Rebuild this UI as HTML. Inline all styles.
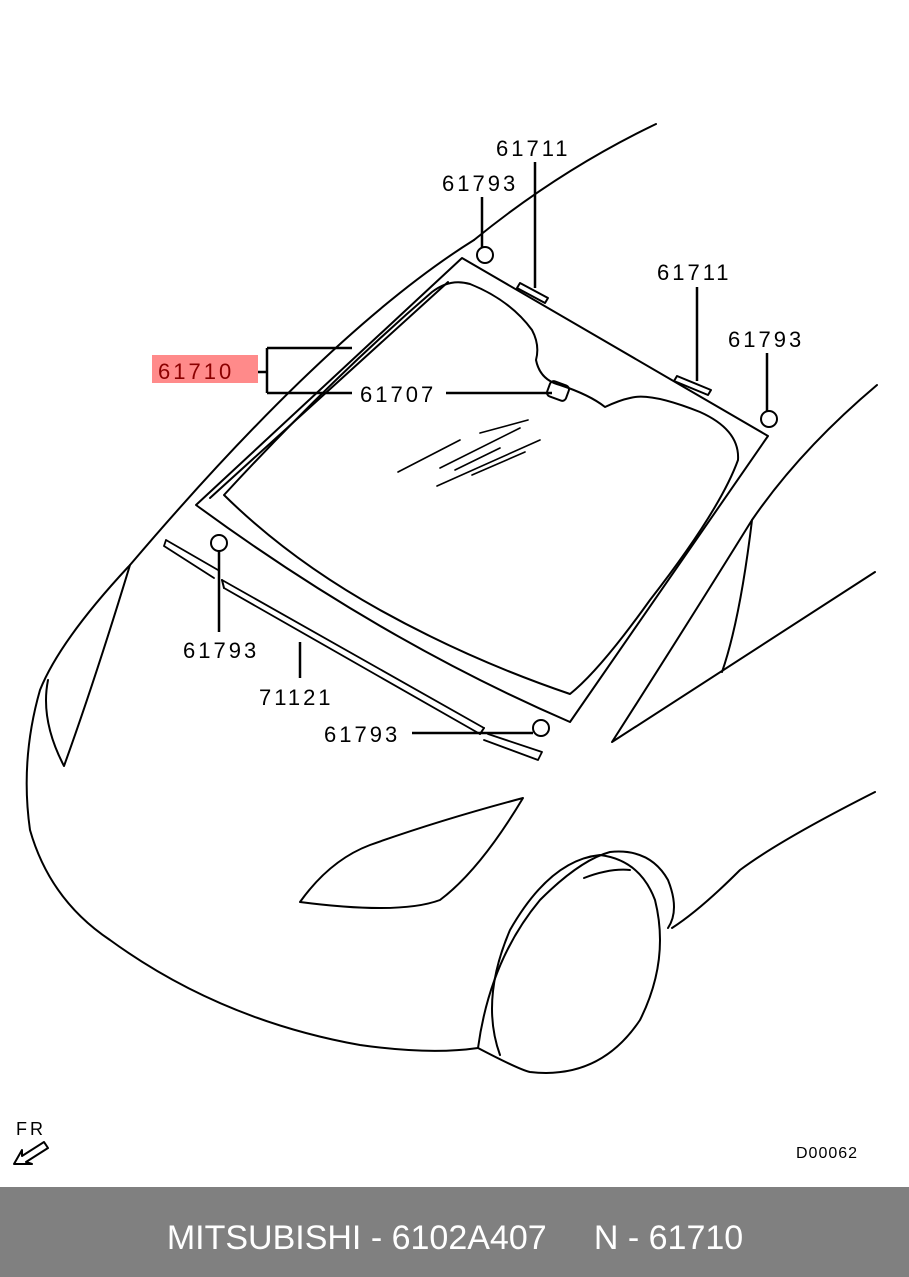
<!DOCTYPE html>
<html><head><style>
body{margin:0;background:#fff}
svg{display:block}
text{font-family:"Liberation Sans",sans-serif;font-size:22px;fill:#000;letter-spacing:3px}
</style></head><body>
<svg width="909" height="1277" viewBox="0 0 909 1277" xmlns="http://www.w3.org/2000/svg">
<rect width="909" height="1277" fill="#fff"/>
<g fill="none" stroke="#000" stroke-width="2" stroke-linejoin="round" stroke-linecap="round">
<path d="M656 124 Q560 170 474 240"/>
<path d="M474 240 Q330 330 130 565 Q60 640 40 690 Q20 760 30 830 Q50 900 110 940 Q220 1020 360 1045 Q430 1055 478 1048"/>
<path d="M130 565 Q95 680 64 766 Q40 720 48 680"/>
<path d="M462 258 L768 436 L570 722 Q380 640 196 505 Z"/>
<path d="M210 498 L448 282"/>
<path d="M224 495 Q330 380 432 292 Q450 278 470 284 Q510 300 532 330 Q540 345 536 360 Q540 380 560 385 Q590 395 605 407 Q620 400 630 398 Q650 392 700 412 Q740 430 738 460 Q720 510 650 600 Q600 670 570 694 Q470 660 380 610 Q290 560 224 495 Z"/>
<path d="M398 472 L460 440 M440 468 L520 428 M455 470 L500 448 M437 486 L540 440 M472 475 L525 452 M480 433 L528 420" stroke-width="1.6"/>
<path d="M877 385 Q800 450 752 520 Q690 620 612 742 L875 572"/>
<path d="M752 520 Q740 620 722 672"/>
<path d="M875 792 Q780 840 740 870 Q700 910 672 928"/>
<path d="M300 902 Q330 860 370 845 Q440 820 523 798 Q480 870 440 900 Q400 915 300 902 Z"/>
<path d="M478 1048 Q490 960 540 900 Q580 860 610 852 Q650 848 668 880 Q680 910 668 928"/>
<path d="M478 1048 Q520 1070 530 1072 Q600 1080 640 1020 Q670 960 655 900 Q640 860 600 855 Q550 860 510 930 Q480 1000 500 1055"/>
<path d="M584 878 Q610 868 630 870"/>
<path d="M166 540 L218 570 M164 546 L214 578 M166 540 L164 546 M222 580 L484 728 M224 588 L480 734 M488 734 L542 752 M484 740 L538 760 M542 752 L538 760" stroke-width="1.8"/>
<path d="M222 580 L224 588 M484 728 L480 734"/>
<circle cx="485" cy="255" r="8"/>
<circle cx="769" cy="419" r="8"/>
<circle cx="219" cy="543" r="8"/>
<circle cx="541" cy="728" r="8"/>
<path d="M520 283 L548 298 L545 303 L517 288 Z"/>
<path d="M677 376 L711 390 L708 395 L674 381 Z"/>
<rect x="548" y="383" width="20" height="16" rx="4" transform="rotate(20 558 391)"/>
<path d="M14 1164 L22 1150 L22 1156 L44 1142 L48 1148 L26 1162 L32 1164 Z"/>
</g>
<g stroke="#000" stroke-width="2.5" fill="none">
<path d="M482 197 L482 247"/>
<path d="M535 162 L535 288"/>
<path d="M697 287 L697 381"/>
<path d="M767 353 L767 411"/>
<path d="M219 551 L219 632"/>
<path d="M300 642 L300 678"/>
<path d="M412 733 L533 733"/>
<path d="M446 393 L552 393"/>
<path d="M242 372 L267 372 M267 348 L267 393 M267 348 L352 348 M267 393 L352 393"/>
</g>
<rect x="152" y="355" width="106" height="28" fill="#ff8a8a"/>
<text x="158" y="379" style="fill:#8b0000">61710</text>
<text x="496" y="156">61711</text>
<text x="442" y="191">61793</text>
<text x="657" y="280">61711</text>
<text x="728" y="347">61793</text>
<text x="360" y="402">61707</text>
<text x="183" y="658">61793</text>
<text x="259" y="705">71121</text>
<text x="324" y="742">61793</text>
<text x="16" y="1135" style="font-size:18px">FR</text>
<text x="796" y="1158" style="font-size:16px;letter-spacing:1px">D00062</text>
<rect x="0" y="1187" width="909" height="90" fill="#808080"/>
<text x="455" y="1249" text-anchor="middle" style="font-size:34px;fill:#fff;letter-spacing:0" xml:space="preserve">MITSUBISHI - 6102A407     N - 61710</text>
</svg>
</body></html>
